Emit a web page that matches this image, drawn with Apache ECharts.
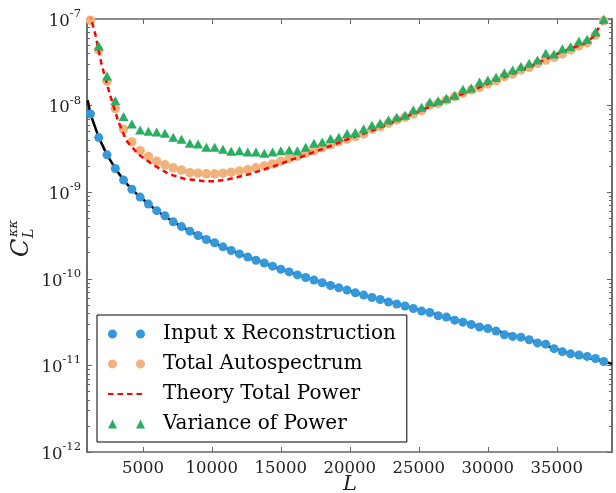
<!DOCTYPE html>
<html><head><meta charset="utf-8">
<script src="https://cdn.jsdelivr.net/npm/echarts@6/dist/echarts.min.js"></script>
<style>html,body{margin:0;padding:0;background:#fff}#c{width:616px;height:493px}</style>
</head><body><div id="c"></div>
<script>
// multipole bin centres
const binL = [1200,1800,2400,3000,3600,4200,4800,5400,6000,6600,7200,7800,8400,9000,9600,10200,10800,11400,12000,12600,13200,13800,14400,15000,15600,16200,16800,17400,18000,18600,19200,19800,20400,21000,21600,22200,22800,23400,24000,24600,25200,25800,26400,27000,27600,28200,28800,29400,30000,30600,31200,31800,32400,33000,33600,34200,34800,35400,36000,36600,37200,37800,38400];
// Input x Reconstruction
const inputXRecon = [8.01e-9,4.27e-9,2.70e-9,1.88e-9,1.38e-9,1.083e-9,8.78e-10,7.29e-10,6.12e-10,5.33e-10,4.55e-10,4.01e-10,3.55e-10,3.16e-10,2.84e-10,2.60e-10,2.34e-10,2.12e-10,1.94e-10,1.78e-10,1.64e-10,1.52e-10,1.40e-10,1.29e-10,1.20e-10,1.11e-10,1.034e-10,9.66e-11,8.99e-11,8.37e-11,7.87e-11,7.40e-11,6.89e-11,6.48e-11,6.08e-11,5.77e-11,5.38e-11,5.10e-11,4.85e-11,4.54e-11,4.24e-11,4.08e-11,3.74e-11,3.61e-11,3.33e-11,3.16e-11,2.97e-11,2.77e-11,2.67e-11,2.49e-11,2.26e-11,2.16e-11,2.12e-11,1.98e-11,1.82e-11,1.76e-11,1.56e-11,1.44e-11,1.36e-11,1.32e-11,1.27e-11,1.20e-11,1.11e-11];
// Total Autospectrum
const totalAuto = [9.7e-8,4.39e-8,1.91e-8,9.23e-9,5.33e-9,3.81e-9,3.02e-9,2.58e-9,2.28e-9,2.07e-9,1.91e-9,1.80e-9,1.68e-9,1.66e-9,1.63e-9,1.63e-9,1.66e-9,1.70e-9,1.76e-9,1.82e-9,1.91e-9,2.01e-9,2.12e-9,2.28e-9,2.44e-9,2.60e-9,2.82e-9,3.02e-9,3.27e-9,3.52e-9,3.84e-9,4.09e-9,4.38e-9,4.71e-9,5.33e-9,5.72e-9,6.26e-9,6.83e-9,7.34e-9,8.01e-9,8.75e-9,1.018e-8,1.064e-8,1.162e-8,1.269e-8,1.389e-8,1.516e-8,1.628e-8,1.778e-8,1.94e-8,2.158e-8,2.32e-8,2.58e-8,2.77e-8,3.08e-8,3.36e-8,3.61e-8,3.95e-8,4.39e-8,4.88e-8,5.33e-8,6.53e-8,9.56e-8];
// Variance of Power
const varPower = [1.3e-7,4.88e-8,2.20e-8,1.141e-8,7.46e-9,6.14e-9,5.24e-9,5.06e-9,4.97e-9,4.80e-9,4.31e-9,4.09e-9,3.68e-9,3.61e-9,3.31e-9,3.31e-9,3.14e-9,2.97e-9,3.02e-9,2.92e-9,2.92e-9,2.82e-9,2.92e-9,3.02e-9,3.08e-9,3.02e-9,3.31e-9,3.68e-9,3.81e-9,4.16e-9,4.31e-9,4.75e-9,4.88e-9,5.42e-9,5.93e-9,6.26e-9,6.83e-9,7.34e-9,7.74e-9,8.91e-9,9.57e-9,1.102e-8,1.141e-8,1.216e-8,1.317e-8,1.545e-8,1.60e-8,1.875e-8,1.98e-8,2.13e-8,2.40e-8,2.58e-8,2.82e-8,3.08e-8,3.36e-8,4.02e-8,3.95e-8,4.54e-8,4.79e-8,5.53e-8,5.83e-8,7.08e-8,9.92e-8];
// Theory Total Power (dashed red curve)
const theoryL = [1000,1250,1550,2000,2600,3200,3800,4650,5650,6850,8050,9500,10150,11000,11850,12700,13400,14250,15000,15700,16550,17300,18100,18850,19550,22000,25650,28000,29400,31000,33050,35100,37050,37650,38150,38400,39000];
const theoryTotal = [1.5e-7,1.0e-7,6.7e-8,3.03e-8,1.36e-8,6.7e-9,3.94e-9,2.77e-9,2.12e-9,1.63e-9,1.42e-9,1.34e-9,1.34e-9,1.39e-9,1.49e-9,1.61e-9,1.75e-9,1.94e-9,2.12e-9,2.36e-9,2.58e-9,2.87e-9,3.19e-9,3.54e-9,3.94e-9,5.42e-9,9.47e-9,1.33e-8,1.63e-8,2.07e-8,2.82e-8,4.02e-8,5.24e-8,6.25e-8,8.5e-8,1.0e-7,1.6e-7];
// Theory cross spectrum (solid black curve)
const crossL = [1000,1200,1800,2400,3000,3600,4200,4800,6000,7200,8400,9600,12000,15000,18000,21000,24000,27000,30000,33000,36000,38400,39000];
const theoryCross = [1.15e-8,8.0e-9,4.3e-9,2.7e-9,1.88e-9,1.38e-9,1.08e-9,8.8e-10,6.1e-10,4.55e-10,3.55e-10,2.84e-10,1.94e-10,1.29e-10,8.99e-11,6.48e-11,4.85e-11,3.61e-11,2.67e-11,1.98e-11,1.36e-11,1.11e-11,1.04e-11];

const xTicks = [5000,10000,15000,20000,25000,30000,35000];
const yMajor = [1e-12,1e-11,1e-10,1e-9,1e-8,1e-7];
const yMinor = [];
[1e-12,1e-11,1e-10,1e-9,1e-8].forEach(d => { [2,3,4,5,6,7,8,9].forEach(m => yMinor.push(m*d)); });

const zip = (xs, ys) => xs.map((x, i) => [x, ys[i]]);
const FONT = 'DejaVu Serif';
const AX = '#666';
const XMIN = 950, XMAX = 39000, YMIN = 1e-12, YMAX = 1e-7;

const chart = echarts.init(document.getElementById('c'), null, {renderer: 'canvas'});

function yAxisDef(pos, ticks, len, showLabel) {
  return {
    type: 'log', logBase: 10, min: YMIN, max: YMAX, position: pos, gridIndex: 0,
    axisLine: {show: true, onZero: false, lineStyle: {color: AX, width: 1.5}},
    axisTick: {show: true, inside: true, length: len, customValues: ticks, lineStyle: {color: AX, width: 1}},
    axisLabel: showLabel ? {
      show: true, customValues: yMajor, margin: 6,
      formatter: v => '{b|10}{s|' + Math.round(Math.log10(v)) + '}',
      rich: {
        b: {fontFamily: FONT, fontSize: 16.5, color: '#222', lineHeight: 22, verticalAlign: 'bottom'},
        s: {fontFamily: FONT, fontSize: 11.5, color: '#222', lineHeight: 22, verticalAlign: 'top'}
      }
    } : {show: false},
    splitLine: {show: false}, minorTick: {show: false}, minorSplitLine: {show: false}
  };
}
function xAxisDef(pos, showLabel) {
  return {
    type: 'value', min: XMIN, max: XMAX, position: pos, gridIndex: 0,
    axisLine: {show: true, onZero: false, lineStyle: {color: AX, width: 1.5}},
    axisTick: {show: true, inside: true, length: 5, customValues: xTicks, lineStyle: {color: AX, width: 1}},
    axisLabel: showLabel ? {show: true, customValues: xTicks, margin: 8, fontFamily: FONT, fontSize: 16.5, color: '#222',
      formatter: v => String(v)} : {show: false},
    splitLine: {show: false}
  };
}

chart.setOption({
  animation: false,
  backgroundColor: '#fff',
  grid: {left: 87, right: 4, top: 19, bottom: 41, containLabel: false, outerBoundsMode: 'none'},
  xAxis: [xAxisDef('bottom', true), xAxisDef('top', false)],
  yAxis: [
    yAxisDef('left', yMajor, 5, true),
    yAxisDef('left', yMinor, 3, false),
    yAxisDef('right', yMajor, 5, false),
    yAxisDef('right', yMinor, 3, false)
  ],
  legend: {
    orient: 'vertical', left: 97, top: 315,
    itemWidth: 37, itemHeight: 9, itemGap: 10,
    padding: [9, 11, 8, 10],
    backgroundColor: '#fff', borderColor: '#000', borderWidth: 1, borderRadius: 0,
    textStyle: {fontFamily: FONT, fontSize: 20, color: '#000', padding: [0, 0, 0, 13]},
    data: [
      {name: 'Input x Reconstruction', icon: 'path://M0,4.5a4.5,4.5 0 1,0 9,0a4.5,4.5 0 1,0 -9,0M28,4.5a4.5,4.5 0 1,0 9,0a4.5,4.5 0 1,0 -9,0'},
      {name: 'Total Autospectrum', icon: 'path://M0,4.5a4.5,4.5 0 1,0 9,0a4.5,4.5 0 1,0 -9,0M28,4.5a4.5,4.5 0 1,0 9,0a4.5,4.5 0 1,0 -9,0'},
      {name: 'Theory Total Power', itemStyle: {color: 'rgba(0,0,0,0)', borderWidth: 0, opacity: 0}},
      {name: 'Variance of Power', icon: 'path://M4.5,0L9,9L0,9ZM32.5,0L37,9L28,9Z'}
    ]
  },
  graphic: [{
    type: 'group', x: 24, y: 240, rotation: Math.PI / 2,
    children: [
      {type: 'text', x: -17, y: -14, style: {text: 'C', font: 'italic 24px "DejaVu Serif"', fill: '#222'}},
      {type: 'text', x: 2, y: -2, style: {text: 'L', font: 'italic 14px "DejaVu Serif"', fill: '#222'}},
      {type: 'text', x: 3, y: -17, style: {text: 'κκ', font: 'italic 13px "DejaVu Serif"', fill: '#222'}}
    ]
  }, {
    type: 'text', x: 350, y: 485,
    style: {text: 'L', font: 'italic 21px "DejaVu Serif"', fill: '#222', align: 'center', verticalAlign: 'middle'}
  }],
  series: [
    {name: 'cross theory', type: 'line', data: zip(crossL, theoryCross), showSymbol: false, symbol: 'none',
     smooth: false, lineStyle: {color: '#000', width: 2.5}, z: 1},
    {name: 'Input x Reconstruction', type: 'scatter', data: zip(binL, inputXRecon), symbol: 'circle', symbolSize: 9,
     itemStyle: {color: '#3498db', opacity: 1}, z: 2},
    {name: 'Total Autospectrum', type: 'scatter', data: zip(binL, totalAuto), symbol: 'circle', symbolSize: 9.5,
     itemStyle: {color: '#f0b27a', opacity: 1}, z: 3},
    {name: 'Theory Total Power', type: 'line', data: zip(theoryL, theoryTotal), showSymbol: false, symbol: 'none',
     lineStyle: {color: '#ff0000', width: 2.5, type: [5.5, 4]}, itemStyle: {color: '#ff0000'}, z: 4},
    {name: 'Variance of Power', type: 'scatter', data: zip(binL, varPower), symbol: 'triangle', symbolSize: [10, 9],
     itemStyle: {color: '#27ae60', opacity: 1}, z: 5}
  ]
});
</script></body></html>
